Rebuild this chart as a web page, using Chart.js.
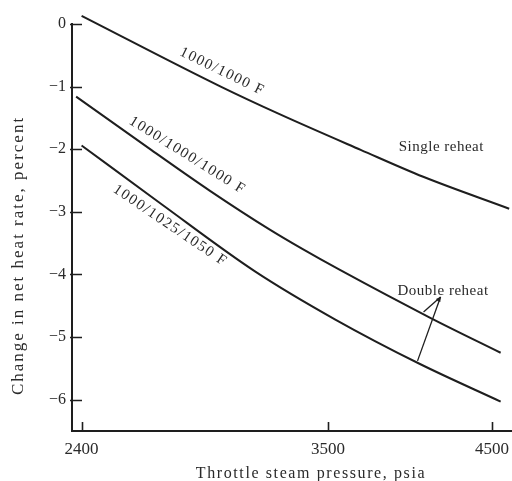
<!DOCTYPE html>
<html>
<head>
<meta charset="utf-8">
<script src="https://cdn.jsdelivr.net/npm/chart.js@4.4.1/dist/chart.umd.min.js"></script>
<style>
  html, body { margin: 0; padding: 0; background: #ffffff; }
  #c { display: block; }
</style>
</head>
<body>
<canvas id="c" width="512" height="481"></canvas>
<script>
// Throttle steam pressure (psia) and change in net heat rate (percent)
const singlePressure  = [2400, 2970, 3250, 3680, 4050, 4620];
const singleChange    = [0.13, -1.00, -1.44, -2.01, -2.44, -2.95];

const double1Pressure = [2380, 2670, 2920, 3200, 3370, 3560, 4100, 4560];
const double1Change   = [-1.16, -2.01, -2.66, -3.28, -3.60, -3.92, -4.70, -5.25];

const double2Pressure = [2400, 2710, 3130, 3540, 4030, 4560];
const double2Change   = [-1.94, -2.87, -3.95, -4.72, -5.43, -6.03];

const xTickValues = [2400, 3500, 4500];
const yTickValues = [0, -1, -2, -3, -4, -5, -6];

const seriesNames = ['1000/1000 F', '1000/1000/1000 F', '1000/1025/1050 F'];

const toPoints = (xs, ys) => xs.map((x, i) => ({ x: x, y: ys[i] }));

const INK = '#1e1e1e';
const TEXT = '#2a2a2a';
const SERIF = '"Liberation Serif", "DejaVu Serif", serif';

// Labels written along the curves, anchored in data units
const curveLabels = [
  { text: seriesNames[0], p: 2977, v: -0.76, angle: 26 },
  { text: seriesNames[1], p: 2822, v: -2.10, angle: 32 },
  { text: seriesNames[2], p: 2749, v: -3.22, angle: 34 },
  { text: 'Single reheat', p: 4164, v: -1.97, angle: 0 },
  { text: 'Double reheat', p: 4175, v: -4.27, angle: 0 }
];

// Pointer lines from the "Double reheat" note to the two double-reheat curves
const pointerTip = { p: 4159, v: -4.36 };
const pointerEnds = [ { p: 4052, v: -4.60 }, { p: 4015, v: -5.38 } ];

const decorations = {
  id: 'decorations',
  afterDraw(chart) {
    const { ctx, chartArea, scales } = chart;
    const xs = scales.x, ys = scales.y;
    ctx.save();

    // inward tick marks
    ctx.strokeStyle = INK;
    ctx.lineWidth = 1.6;
    ctx.beginPath();
    yTickValues.forEach(v => {
      const y = Math.round(ys.getPixelForValue(v)) + 0.5;
      ctx.moveTo(chartArea.left - 2, y);
      ctx.lineTo(chartArea.left + 10, y);
    });
    xTickValues.forEach(p => {
      const x = Math.round(xs.getPixelForValue(p)) + 0.5;
      ctx.moveTo(x, chartArea.bottom);
      ctx.lineTo(x, chartArea.bottom - 9);
    });
    ctx.stroke();

    // curve annotations
    ctx.fillStyle = TEXT;
    ctx.textAlign = 'center';
    ctx.textBaseline = 'middle';
    curveLabels.forEach(l => {
      const x = xs.getPixelForValue(l.p);
      const y = ys.getPixelForValue(l.v);
      ctx.save();
      ctx.translate(x, y);
      ctx.rotate(l.angle * Math.PI / 180);
      ctx.font = '15px ' + SERIF;
      ctx.letterSpacing = l.angle ? '1.5px' : '0.5px';
      ctx.fillText(l.text, 0, 0);
      ctx.restore();
    });

    // pointer lines with small heads at the note
    const tx = xs.getPixelForValue(pointerTip.p);
    const ty = ys.getPixelForValue(pointerTip.v);
    ctx.strokeStyle = INK;
    ctx.fillStyle = INK;
    ctx.lineWidth = 1.3;
    pointerEnds.forEach(e => {
      const ex = xs.getPixelForValue(e.p);
      const ey = ys.getPixelForValue(e.v);
      ctx.beginPath();
      ctx.moveTo(ex, ey);
      ctx.lineTo(tx, ty);
      ctx.stroke();
      const a = Math.atan2(ty - ey, tx - ex);
      ctx.beginPath();
      ctx.moveTo(tx, ty);
      ctx.lineTo(tx - 5 * Math.cos(a - 0.3), ty - 5 * Math.sin(a - 0.3));
      ctx.lineTo(tx - 5 * Math.cos(a + 0.3), ty - 5 * Math.sin(a + 0.3));
      ctx.closePath();
      ctx.fill();
    });

    // axis titles
    ctx.fillStyle = TEXT;
    ctx.font = '16px ' + SERIF;
    ctx.letterSpacing = '1.6px';
    ctx.textAlign = 'center';
    ctx.textBaseline = 'alphabetic';
    ctx.fillText('Throttle steam pressure, psia', (chartArea.left + chartArea.right) / 2 + 19, chart.height - 3);

    ctx.save();
    ctx.translate(19, (chartArea.top + chartArea.bottom) / 2 + 28);
    ctx.rotate(-Math.PI / 2);
    ctx.textBaseline = 'middle';
    ctx.font = '17px ' + SERIF;
    ctx.letterSpacing = '2px';
    ctx.fillText('Change in net heat rate, percent', 0, 0);
    ctx.restore();

    ctx.restore();
  }
};

const lineStyle = {
  borderColor: INK,
  borderWidth: 2,
  pointRadius: 0,
  fill: false,
  clip: false,
  cubicInterpolationMode: 'monotone'
};

new Chart(document.getElementById('c'), {
  type: 'line',
  data: {
    datasets: [
      Object.assign({ label: seriesNames[0], data: toPoints(singlePressure, singleChange) }, lineStyle),
      Object.assign({ label: seriesNames[1], data: toPoints(double1Pressure, double1Change) }, lineStyle),
      Object.assign({ label: seriesNames[2], data: toPoints(double2Pressure, double2Change) }, lineStyle)
    ]
  },
  options: {
    responsive: false,
    animation: false,
    events: [],
    layout: { padding: { left: 0, right: 0, top: 24, bottom: 0 } },
    plugins: {
      legend: { display: false },
      tooltip: { enabled: false },
      title: { display: false }
    },
    scales: {
      x: {
        type: 'logarithmic',
        min: 2365,
        max: 4640,
        afterBuildTicks: s => { s.ticks = xTickValues.map(v => ({ value: v })); },
        afterFit: s => { s.height = 50; s.paddingLeft = 0; s.paddingRight = 0; },
        grid: { display: false, drawTicks: false },
        border: { display: true, color: INK, width: 2 },
        ticks: {
          autoSkip: false,
          maxRotation: 0,
          padding: 8,
          color: TEXT,
          font: { family: SERIF, size: 17 },
          callback: v => String(v)
        }
      },
      y: {
        type: 'linear',
        min: -6.5,
        max: 0,
        afterBuildTicks: s => { s.ticks = yTickValues.map(v => ({ value: v })); },
        afterFit: s => { s.width = 72; s.paddingTop = 0; s.paddingBottom = 0; },
        grid: { display: false, drawTicks: false },
        border: { display: true, color: INK, width: 2 },
        ticks: {
          padding: 6,
          color: TEXT,
          font: { family: SERIF, size: 16 },
          callback: v => (v < 0 ? '\u2212' + Math.abs(v) : String(v))
        }
      }
    }
  },
  plugins: [decorations]
});
</script>
</body>
</html>
